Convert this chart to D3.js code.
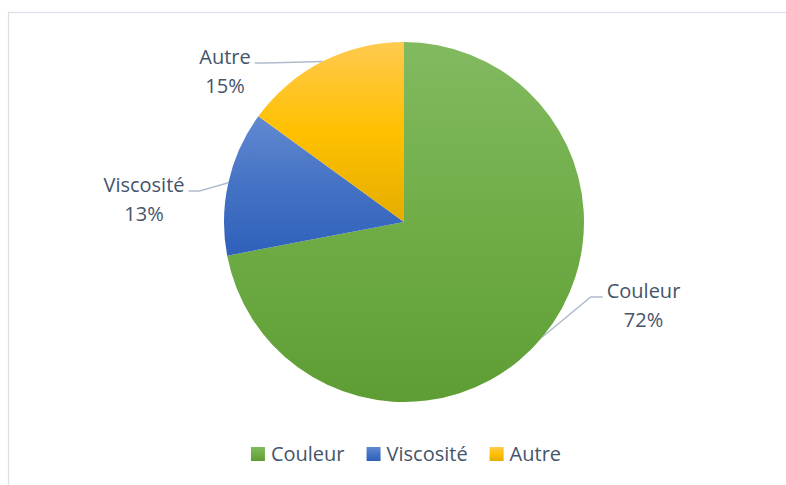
<!DOCTYPE html>
<html>
<head>
<meta charset="utf-8">
<script src="https://cdn.jsdelivr.net/npm/d3@7"></script>
<style>
  body { margin: 0; background: #fff; }
  text { font-family: "Open Sans", "Noto Sans", sans-serif; fill: #44546a; }
</style>
</head>
<body>
<div id="chart-area"></div>
<script>
// Data
const categories = ["Couleur", "Viscosité", "Autre"];
const values = [72, 13, 15];
const baseColors = ["#70ad47", "#4472c4", "#ffc000"];
const topColors = ["#82ba60", "#6189d1", "#ffca4f"];
const bottomColors = ["#5e9d34", "#2f61bb", "#e4ad00"];

const width = 786, height = 485;
const cx = 404, cy = 222, radius = 180;

// label offsets from pie centre (text centre, first baseline)
const labelOffset = [[239.5, 76], [-260, -30], [-179, -158]];

const svg = d3.select("#chart-area").append("svg")
    .attr("width", width)
    .attr("height", height);

// chart frame
svg.append("rect")
    .attr("x", 8.5).attr("y", 12.5)
    .attr("width", 820).attr("height", 520)
    .attr("fill", "none")
    .attr("stroke", "#dbe0e8")
    .attr("stroke-width", 1.3);

// Gradients
const defs = svg.append("defs");
categories.forEach(function(c, i) {
    const grad = defs.append("linearGradient")
        .attr("id", "grad" + i)
        .attr("x1", 0).attr("y1", 0).attr("x2", 0).attr("y2", 1);
    grad.append("stop").attr("offset", "0%").attr("stop-color", topColors[i]);
    grad.append("stop").attr("offset", "50%").attr("stop-color", baseColors[i]);
    grad.append("stop").attr("offset", "100%").attr("stop-color", bottomColors[i]);
});

const pie = d3.pie().sort(null).value(function(d) { return d; });
const arc = d3.arc().innerRadius(0).outerRadius(radius);
const arcs = pie(values);

const g = svg.append("g")
    .attr("transform", "translate(" + cx + "," + cy + ")");

g.selectAll("path.slice")
    .data(arcs)
    .enter().append("path")
    .attr("class", "slice")
    .attr("d", arc)
    .attr("fill", function(d, i) { return "url(#grad" + i + ")"; });

// Data labels with leader lines
const fmt = function(d) { return Math.round(d / d3.sum(values) * 100) + "%"; };

arcs.forEach(function(d, i) {
    const lx = labelOffset[i][0], ly = labelOffset[i][1];
    const lbl = g.append("text")
        .attr("text-anchor", "middle")
        .style("font-size", "20px");
    const t1 = lbl.append("tspan").attr("x", lx).attr("y", ly).text(categories[i]);
    lbl.append("tspan").attr("x", lx).attr("y", ly + 29).text(fmt(values[i]));

    const w = t1.node().getComputedTextLength();
    const mid = (d.startAngle + d.endAngle) / 2;
    const ex = Math.sin(mid) * radius, ey = -Math.cos(mid) * radius;
    const right = lx > 0;
    const sx = right ? lx - w / 2 - 4 : lx + w / 2 + 4;
    const elbow = right ? sx - 12 : sx + 11;
    const sy = ly - 1;
    const pts = [[sx, sy], [elbow, sy], [ex, ey]];
    g.append("path")
        .attr("d", d3.line()(pts))
        .attr("fill", "none")
        .attr("stroke", "#b0bccc")
        .attr("stroke-width", 1.5);
});

// Legend
const legend = svg.append("g").attr("class", "legend");
let xPos = 0;
categories.forEach(function(c, i) {
    const item = legend.append("g").attr("transform", "translate(" + xPos + ",0)");
    item.append("rect")
        .attr("x", 0).attr("y", -14)
        .attr("width", 14).attr("height", 14)
        .attr("fill", "url(#grad" + i + ")");
    const txt = item.append("text")
        .attr("x", 20).attr("y", 0)
        .style("font-size", "20px")
        .text(c);
    xPos += 20 + txt.node().getComputedTextLength() + 22;
});
const legendWidth = xPos - 22;
legend.attr("transform", "translate(" + (406 - legendWidth / 2) + ",461)");
</script>
</body>
</html>
